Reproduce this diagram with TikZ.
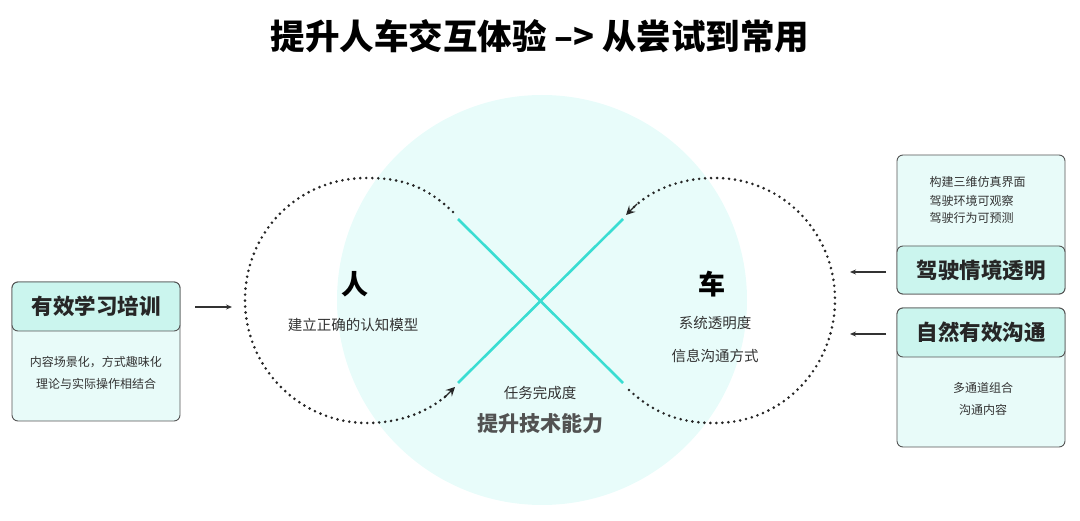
\documentclass[tikz,border=0pt]{standalone}
\usepackage{fontspec}
\setmainfont{Noto Sans CJK SC}
\usetikzlibrary{arrows.meta}
\definecolor{bgcirc}{HTML}{E8FCFA}
\definecolor{xcyan}{HTML}{3ADDD2}
\definecolor{hdrfill}{HTML}{CBF5EE}
\definecolor{bodyfill}{HTML}{E8FBF9}
\definecolor{boxline}{HTML}{555555}
\definecolor{txtgray}{HTML}{333333}
\tikzset{
  outerbox/.style={draw=boxline, line width=0.9pt, fill=bodyfill, rounded corners=6pt},
  hdrbox/.style={draw=boxline, line width=0.9pt, fill=hdrfill, rounded corners=6pt},
  hdrtext/.style={font=\fontsize{21.5}{24}\selectfont\bfseries, text=black!85},
  smalltext/.style={font=\fontsize{12}{14}\selectfont, text=txtgray},
  midtext/.style={font=\fontsize{14.5}{17}\selectfont, text=txtgray},
  bigchar/.style={font=\fontsize{27}{30}\selectfont\bfseries, text=black},
  xline/.style={draw=xcyan, line width=2.6pt},
  loopline/.style={draw=black!85, line width=2.9pt, line cap=round, dash pattern=on 0pt off 6pt},
  looptip/.style={-{Stealth[length=9pt,width=9pt,inset=3.5pt]}},
  sidearrow/.style={draw=black!80, line width=1.1pt, -{Stealth[length=6pt,width=5pt]}}
}
\begin{document}
\begin{tikzpicture}[x=1pt,y=-1pt]
\useasboundingbox (0,0) rectangle (1080,521);
% background circle
\fill[bgcirc] (542,300) circle[radius=205];

% title
\node[font=\fontsize{34.5}{40}\selectfont\bfseries] (title) at (540,36) {提升人车交互体验 –> 从尝试到常用};

% X lines
\coordinate (ul) at (458,219);
\coordinate (lr) at (623,383);
\coordinate (ll) at (458,383);
\coordinate (ur) at (623,219);
\draw[xline] (ul) -- (lr);
\draw[xline] (ll) -- (ur);

% loops
\coordinate (lstart) at (453,212);
\coordinate (lend) at (455,387);
\coordinate (rstart) at (629,390);
\coordinate (rend) at (626,215);
\draw[loopline] (lstart) .. controls (425,185) and (400,178) .. (367,178)
   .. controls (295,178) and (245,235) .. (245,300)
   .. controls (245,368) and (300,423) .. (367,423)
   .. controls (400,423) and (428,412) .. (447,395);
\draw[looptip, draw=black!85, line width=1.3pt] (444,398) -- (lend);
\draw[loopline] (rstart) .. controls (656,415) and (682,423) .. (715,423)
   .. controls (785,423) and (835,365) .. (835,300)
   .. controls (835,232) and (782,178) .. (715,178)
   .. controls (680,178) and (652,190) .. (634,207);
\draw[looptip, draw=black!85, line width=1.3pt] (637,204) -- (rend);

% center texts
\node[bigchar] (ren) at (355,284) {人};
\node[midtext] (renT) at (353,325) {建立正确的认知模型};
\node[bigchar] (che) at (712,284) {车};
\node[midtext] (cheT1) at (715,323) {系统透明度};
\node[midtext] (cheT2) at (715,356) {信息沟通方式};
\node[midtext] (task) at (540,393) {任务完成度};
\node[font=\fontsize{21}{24}\selectfont\bfseries, text=black!68] (skill) at (540,424) {提升技术能力};

% left box
\draw[outerbox] (12,282) rectangle (180,421);
\draw[hdrbox] (12,282) rectangle (180,331);
\node[hdrtext] (lh) at (96,306) {有效学习培训};
\node[smalltext] (lb1) at (96,362) {内容场景化，方式趣味化};
\node[smalltext] (lb2) at (96,384) {理论与实际操作相结合};

% right top box
\draw[outerbox] (897,155) rectangle (1065,294);
\draw[hdrbox] (897,246) rectangle (1065,294);
\node[hdrtext] (rh1) at (981,270) {驾驶情境透明};
\node[smalltext, anchor=west] (rt1) at (926,182) {构建三维仿真界面};
\node[smalltext, anchor=west] (rt2) at (926,201) {驾驶环境可观察};
\node[smalltext, anchor=west] (rt3) at (926,218) {驾驶行为可预测};

% right bottom box
\draw[outerbox] (897,308) rectangle (1065,447);
\draw[hdrbox] (897,308) rectangle (1065,357);
\node[hdrtext] (rh2) at (981,332) {自然有效沟通};
\node[smalltext] (rb1) at (983,388) {多通道组合};
\node[smalltext] (rb2) at (983,410) {沟通内容};

% side arrows
\coordinate (la0) at (195,307);
\coordinate (la1) at (232,307);
\draw[sidearrow] (la0) -- (la1);
\coordinate (ra0) at (886,272);
\coordinate (ra1) at (850,272);
\draw[sidearrow] (ra0) -- (ra1);
\coordinate (rb0) at (886,334);
\coordinate (rbx) at (850,334);
\draw[sidearrow] (rb0) -- (rbx);
\end{tikzpicture}
\end{document}
